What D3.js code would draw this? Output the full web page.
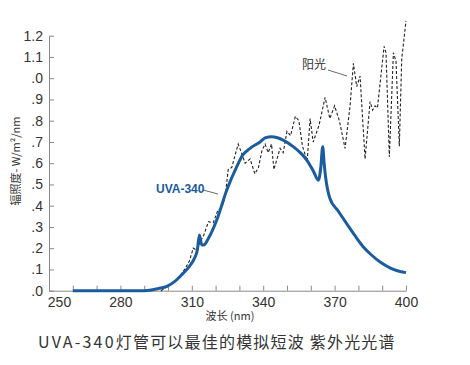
<!DOCTYPE html>
<html><head><meta charset="utf-8">
<script src="https://cdn.jsdelivr.net/npm/d3@7/dist/d3.min.js"></script>
<style>
body{margin:0;background:#fff;}
text{font-family:"Liberation Sans",Arial,sans-serif;}
</style></head>
<body><svg id="c" width="470" height="365"></svg>
<script>
// wavelength (nm), irradiance (W/m²/nm)
const uvaNm  = [260,280,290,293,296,299.5,303,306.4,309,311,312.3,313.2,314.2,315,317,320.5,324.7,328.9,331.5,334.5,338.7,341,343.6,346,348.4,352.6,356,358.3,361,363.2,364.2,365,365.6,366.2,368,371.5,375,378.5,382,385.5,389,392,394.7,397.5,400];
const uvaVal = [0,0,0,0.003,0.01,0.02,0.045,0.082,0.115,0.15,0.19,0.262,0.215,0.215,0.247,0.333,0.474,0.584,0.64,0.67,0.70,0.72,0.725,0.72,0.709,0.678,0.645,0.615,0.565,0.52,0.58,0.678,0.60,0.536,0.435,0.375,0.317,0.26,0.207,0.168,0.136,0.115,0.10,0.09,0.085];
const sunNm  = [297,300,303,305,307,309,310.6,312.1,313.5,315,317,319,321,322.6,324,325.3,326.8,328,329.5,331.5,332.4,334.5,336.5,338,339.5,340.8,342.1,343.5,344.5,347.1,348.4,350,351.5,353.5,355,356.5,358.5,359.7,361,363.5,366,368,370,372,374.4,376.5,377.9,379.3,380.7,382.8,384.9,386,387,388,390.8,391.6,393,394.7,395.8,397.2,398.2,400];
const sunVal = [0,0.02,0.045,0.07,0.10,0.14,0.20,0.19,0.23,0.26,0.325,0.32,0.38,0.39,0.44,0.57,0.58,0.63,0.69,0.63,0.60,0.62,0.55,0.58,0.66,0.69,0.65,0.69,0.57,0.67,0.65,0.75,0.73,0.82,0.80,0.68,0.61,0.81,0.70,0.78,0.91,0.81,0.87,0.80,0.67,0.87,1.07,0.96,1.01,0.62,0.89,0.85,0.87,0.86,1.15,1.12,0.63,1.12,1.08,0.68,1.09,1.27];
const xTickVals = [250,260,270,280,290,300,310,320,330,340,350,360,370,380,390,400];
const xTickLabels = ["250","","","280","","","310","","","340","","","370","","","400"];
const yTickVals = [0,0.1,0.2,0.3,0.4,0.5,0.6,0.7,0.8,0.9,1.0,1.1,1.2];
const yTickLabels = [".0",".1",".2",".3",".4",".5",".6",".7",".8",".9",".0","1.1","1.2"];
const yTitle = "辐照度- W/m²/nm";
const xTitle = "波长 (nm)";
const captionLatin = "UVA-340";
const captionCJK = "灯管可以最佳的模拟短波 紫外光光谱";
const uvaLabel = "UVA-340";
const sunLabel = "阳光";

const svg = d3.select("#c");
const x = d3.scaleLinear().domain([250,400]).range([49,406]);
const y = d3.scaleLinear().domain([0,1.2]).range([290.7,35.7]);
const axisCol = "#8a8a8a";

const gx = svg.append("g").attr("transform","translate(0,290.7)")
  .call(d3.axisBottom(x).tickValues(xTickVals).tickSize(-5).tickSizeOuter(0).tickPadding(6)
    .tickFormat((d,i)=>xTickLabels[i]));
const gy = svg.append("g").attr("transform","translate(49,0)")
  .call(d3.axisLeft(y).tickValues(yTickVals).tickSize(-5).tickSizeOuter(0).tickPadding(6)
    .tickFormat((d,i)=>yTickLabels[i]));
[gx,gy].forEach(g=>{
  g.selectAll("path,line").attr("stroke",axisCol).attr("stroke-width",1);
  g.selectAll("text").attr("fill","#333").style("font-size","14px").style("font-family","'Liberation Sans',Arial,sans-serif");
});
gx.selectAll(".tick text").filter(d=>d===250).attr("dx",10);

const sunLine = d3.line().x((d,i)=>x(sunNm[i])).y((d,i)=>y(sunVal[i]));
svg.append("path").attr("d",sunLine(sunNm)).attr("fill","none")
  .attr("stroke","#222").attr("stroke-width",1.1).attr("stroke-dasharray","3,2");

const uvaLine = d3.line().x((d,i)=>x(uvaNm[i])).y((d,i)=>y(uvaVal[i])).curve(d3.curveMonotoneX);
svg.append("path").attr("d",uvaLine(uvaNm)).attr("fill","none")
  .attr("stroke","#1a5c9e").attr("stroke-width",3).attr("stroke-linejoin","round");

svg.append("text").attr("x",156).attr("y",193).text(uvaLabel)
  .attr("fill","#1a5c9e").style("font-size","12px").style("font-weight","bold");
svg.append("line").attr("x1",203).attr("y1",190).attr("x2",218).attr("y2",194)
  .attr("stroke","#444").attr("stroke-width",0.8);
svg.append("text").attr("x",302).attr("y",69).text(sunLabel)
  .attr("fill","#333").style("font-size","12px").style("font-family","'Noto Sans CJK SC',sans-serif");
svg.append("line").attr("x1",328).attr("y1",70).attr("x2",347).attr("y2",76)
  .attr("stroke","#444").attr("stroke-width",0.8);

svg.append("text").attr("transform","translate(20,161) rotate(-90)").attr("text-anchor","middle")
  .text(yTitle).attr("fill","#333").style("font-size","11px").style("font-family","'Noto Sans CJK SC',sans-serif");
svg.append("text").attr("x",230).attr("y",320).attr("text-anchor","middle")
  .text(xTitle).attr("fill","#333").style("font-size","11px").style("font-family","'Noto Sans CJK SC',sans-serif");
const cap = svg.append("text").attr("x",38).attr("y",348)
  .attr("fill","#333").style("font-size","16px").style("font-family","'Noto Sans CJK SC',sans-serif");
cap.append("tspan").text(captionLatin).style("letter-spacing","2.2px");
cap.append("tspan").text(captionCJK).style("letter-spacing","1.2px");
</script></body></html>
